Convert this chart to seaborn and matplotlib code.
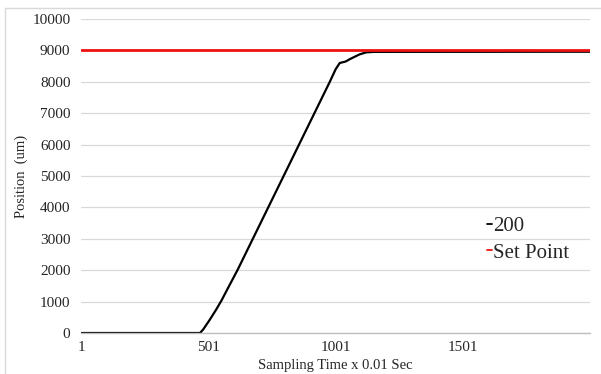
import pandas as pd
import numpy as np
import matplotlib
matplotlib.use("Agg")
import matplotlib.pyplot as plt
import seaborn as sns

# response curve
sample = [1, 467, 480, 505, 530, 551, 580, 614, 977, 1000, 1016, 1040, 1055, 1075, 1094, 1120, 1150, 2000]
position = [0, 0, 120, 420, 740, 1030, 1480, 2000, 8000, 8400, 8600, 8650, 8720, 8800, 8875, 8940, 8955, 8960]

# set point line
sp_sample = [1, 2000]
sp_value = [9000, 9000]

xticks = [1, 501, 1001, 1501]
yticks = list(range(0, 10001, 1000))

df = pd.concat([
    pd.DataFrame({"t": sample, "pos": position, "series": "200"}),
    pd.DataFrame({"t": sp_sample, "pos": sp_value, "series": "Set Point"}),
])

sns.set_style("white")
plt.rcParams['font.family'] = ['Liberation Serif', 'DejaVu Serif']

fig = plt.figure(figsize=(6.01, 3.74), dpi=100)
ax = fig.add_axes([0.1356, 0.1096, 0.9817 - 0.1356, 0.949 - 0.1096])

# chart area border
fig.patches.append(plt.Rectangle((5 / 601, -0.01), 1.02, 1 - 8 / 374 + 0.01,
                                 transform=fig.transFigure, fill=False,
                                 edgecolor="#d9d9d9", lw=1))

sns.lineplot(data=df, x="t", y="pos", hue="series",
             palette={"200": "black", "Set Point": "#ee1111"},
             ax=ax, linewidth=1.6, sort=False)
for ln, lw in zip(ax.get_lines(), [1.6, 2.0]):
    ln.set_linewidth(lw)

ax.set_xlim(1, 2000)
ax.set_ylim(0, 10000)
ax.set_xticks(xticks)
ax.set_xticklabels([str(v) for v in xticks])
ax.set_yticks(yticks)
ax.tick_params(axis="both", length=0, labelsize=11, colors="#262626", pad=8)
ax.tick_params(axis="x", pad=6)
ax.yaxis.grid(True, color="#d9d9d9", lw=0.9)
ax.xaxis.grid(False)
for s in ["top", "right", "left"]:
    ax.spines[s].set_visible(False)
ax.spines["bottom"].set_color("#bfbfbf")
ax.spines["bottom"].set_linewidth(1)

ax.set_xlabel("Sampling Time x 0.01 Sec", fontsize=10.5, color="#262626", labelpad=3)
ax.set_ylabel("Position  (um)", fontsize=10.5, color="#262626", labelpad=3)

leg = ax.legend(loc="upper left", bbox_to_anchor=(0.777, 0.405), frameon=False,
                fontsize=15, handlelength=0.25, handletextpad=0.05,
                borderpad=0, labelspacing=0.35, title=None)
for h in leg.get_lines():
    h.set_linewidth(1.3)

fig.savefig("out.png", dpi=100)
